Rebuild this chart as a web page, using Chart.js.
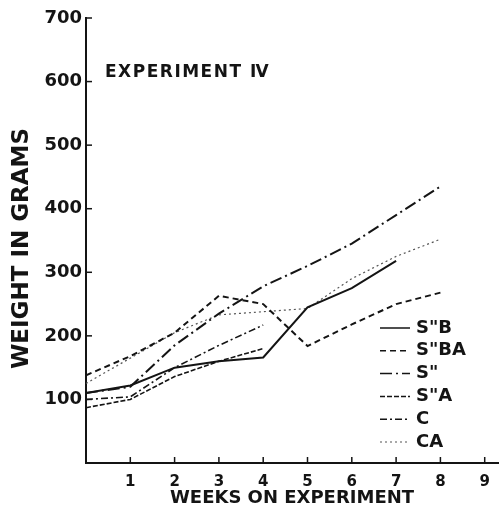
<!DOCTYPE html>
<html>
<head>
<meta charset="utf-8">
<script src="https://cdn.jsdelivr.net/npm/chart.js@4.4.1/dist/chart.umd.min.js"></script>
<style>
  html, body { margin: 0; padding: 0; background: #fff; }
  #wrap { width: 500px; height: 520px; }
</style>
</head>
<body>
<div id="wrap"><canvas id="weight-chart"></canvas></div>
<script>
var weeks = [0, 1, 2, 3, 4, 5, 6, 7, 8];
var seriesNames = ["S\"B", "S\"BA", "S\"", "S\"A", "C", "CA"];
var sB  = [110, 122, 150, 160, 166, 245, 275, 318, null];
var sBA = [138, 168, 205, 263, 250, 184, 218, 250, 268];
var s   = [110, 120, 185, 235, 278, 310, 345, 390, 435];
var sA  = [87, 100, 136, 160, 180, null, null, null, null];
var c   = [100, 104, 150, 185, 217, null, null, null, null];
var ca  = [125, 165, 205, 233, 238, 243, 290, 325, 352];
var yTicks = [100, 200, 300, 400, 500, 600, 700];
var xTicks = [1, 2, 3, 4, 5, 6, 7, 8, 9];

var ink = '#141414';
function pts(vals) {
    return weeks.map(function (w, i) { return {x: w, y: vals[i]}; });
}
function ds(label, vals, dash, width, color) {
    return {
        label: label,
        data: pts(vals),
        borderColor: color || ink,
        borderWidth: width,
        borderDash: dash,
        pointRadius: 0,
        fill: false,
        tension: 0,
        spanGaps: false
    };
}

// inward tick marks, legend box and the "EXPERIMENT IV" note
var decor = {
    id: 'decor',
    afterDraw: function (chart) {
        var ctx = chart.ctx, a = chart.chartArea;
        var xs = chart.scales.x, ys = chart.scales.y;
        ctx.save();
        ctx.strokeStyle = ink;
        ctx.lineWidth = 1.5;
        yTicks.forEach(function (v) {
            var py = ys.getPixelForValue(v);
            ctx.beginPath(); ctx.moveTo(a.left, py); ctx.lineTo(a.left + 6, py); ctx.stroke();
        });
        xTicks.forEach(function (v) {
            var px = xs.getPixelForValue(v);
            ctx.beginPath(); ctx.moveTo(px, a.bottom); ctx.lineTo(px, a.bottom - 6); ctx.stroke();
        });

        ctx.fillStyle = ink;
        ctx.textBaseline = 'middle';
        ctx.save();
        ctx.font = 'bold 17px "DejaVu Sans"';
        ctx.letterSpacing = '1.5px';
        ctx.fillText('EXPERIMENT \u2163', a.left + 19, 73);
        ctx.restore();

        ctx.font = 'bold 18px "DejaVu Sans"';
        chart.data.datasets.forEach(function (d, i) {
            var ly = 328 + i * 22.8;
            var lx = a.right - 118;
            ctx.save();
            ctx.strokeStyle = d.borderColor;
            ctx.lineWidth = Math.min(d.borderWidth, 1.5);
            ctx.setLineDash(d.borderDash || []);
            ctx.beginPath(); ctx.moveTo(lx, ly); ctx.lineTo(lx + 30, ly); ctx.stroke();
            ctx.restore();
            ctx.fillText(d.label, lx + 36, ly);
        });
        ctx.restore();
    }
};

new Chart(document.getElementById("weight-chart"), {
    type: 'line',
    data: {
        datasets: [
            ds(seriesNames[0], sB, [], 2),
            ds(seriesNames[1], sBA, [6, 4], 2),
            ds(seriesNames[2], s, [12, 4, 2, 4], 2),
            ds(seriesNames[3], sA, [5, 2], 1.6),
            ds(seriesNames[4], c, [7, 3, 2, 3], 1.6),
            ds(seriesNames[5], ca, [2, 3], 1.2, '#555')
        ]
    },
    options: {
        maintainAspectRatio: false,
        responsive: true,
        animation: false,
        layout: {padding: {top: 18, right: 2, left: 0, bottom: 0}},
        plugins: {
            legend: {display: false},
            tooltip: {enabled: false},
            title: {display: false}
        },
        scales: {
            x: {
                type: 'linear',
                min: 0,
                max: 9.3,
                afterBuildTicks: function (sc) {
                    sc.ticks = xTicks.map(function (v) { return {value: v}; });
                },
                afterFit: function (sc) { sc.height = 57; },
                grid: {display: false},
                border: {display: true, color: ink, width: 2},
                ticks: {color: ink, padding: 2, maxRotation: 0, font: {family: 'DejaVu Sans', size: 15, weight: 'bold'}},
                title: {
                    display: true,
                    text: 'WEEKS ON EXPERIMENT',
                    color: ink,
                    padding: {top: 0, bottom: 11},
                    font: {family: 'DejaVu Sans', size: 18, weight: 'bold'}
                }
            },
            y: {
                min: 0,
                max: 700,
                afterBuildTicks: function (sc) {
                    sc.ticks = yTicks.map(function (v) { return {value: v}; });
                },
                afterFit: function (sc) { sc.width = 86; },
                grid: {display: false, drawTicks: false},
                border: {display: true, color: ink, width: 2},
                ticks: {color: ink, padding: 4, font: {family: 'DejaVu Sans', size: 18, weight: 'bold'}},
                title: {
                    display: true,
                    text: 'WEIGHT IN GRAMS\u00a0\u00a0',
                    color: ink,
                    padding: {top: 8, bottom: 0},
                    font: {family: 'DejaVu Sans', size: 23, weight: 'bold'}
                }
            }
        }
    },
    plugins: [decor]
});
</script>
</body>
</html>
